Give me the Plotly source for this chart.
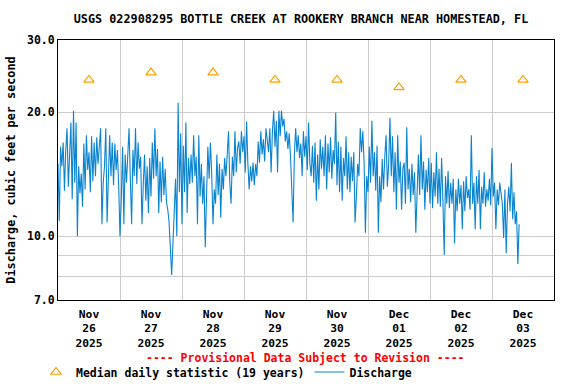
import plotly.graph_objects as go
import pandas as pd

# Discharge, 30-minute values (cfs), one list per day
nov26 = [15.0, 10.9, 16.5, 14.8, 16.9, 12.9, 16.2, 18.3, 13.2, 17.0, 18.9, 12.3,
         20.2, 13.5, 18.9, 10.0, 14.8, 12.7, 14.2, 11.8, 16.8, 13.0, 17.6, 14.5,
         16.0, 12.8, 17.5, 13.6, 16.9, 14.0, 17.4, 15.0, 16.3, 18.3, 10.7, 13.5,
         14.8, 18.3, 10.8, 13.4, 17.6, 14.0, 16.9, 13.3, 16.8, 14.5, 16.2, 13.2]
nov27 = [10.0, 12.3, 16.5, 10.7, 15.8, 13.5, 16.6, 18.3, 13.8, 10.7, 16.2, 14.0,
         18.3, 13.4, 16.9, 14.6, 15.6, 10.7, 13.3, 15.8, 12.2, 14.8, 11.4, 15.5,
         12.5, 16.9, 13.8, 18.3, 14.0, 16.3, 11.4, 15.2, 12.1, 15.6, 12.6, 14.6,
         12.1, 11.6, 10.8, 9.4, 8.05, 9.6, 11.5, 13.8, 10.0, 21.1, 12.8, 17.8]
nov28 = [10.7, 16.6, 12.8, 18.9, 11.4, 15.5, 13.4, 15.8, 13.5, 17.6, 14.0, 15.6,
         10.7, 17.6, 12.5, 15.0, 12.0, 14.0, 9.4, 12.3, 16.5, 13.8, 16.9, 14.2,
         10.7, 13.0, 12.0, 15.8, 12.6, 15.0, 11.1, 14.6, 13.0, 15.5, 14.0, 15.8,
         18.0, 13.5, 12.0, 15.6, 14.0, 18.0, 14.3, 16.4, 17.0, 15.0, 18.0, 16.0]
nov29 = [17.5, 14.3, 19.0, 15.0, 13.0, 14.8, 13.6, 15.1, 13.3, 15.0, 14.0, 17.0,
         15.1, 18.0, 15.8, 17.2, 15.2, 18.3, 17.0, 16.0, 18.3, 14.3, 18.0, 20.2,
         16.5, 19.1, 14.3, 20.2, 17.5, 20.2, 18.5, 19.3, 17.0, 18.0, 16.3, 17.8,
         15.6, 13.5, 10.8, 15.8, 18.3, 16.0, 17.6, 15.5, 16.8, 14.0, 18.0, 15.6]
nov30 = [17.5, 14.5, 18.9, 15.0, 14.0, 16.6, 13.5, 16.9, 12.2, 15.8, 13.0, 17.2,
         14.6, 16.5, 14.0, 17.6, 13.0, 16.8, 14.3, 17.4, 13.8, 16.2, 15.0, 20.0,
         13.3, 17.0, 12.8, 16.5, 12.2, 15.5, 14.0, 17.5, 13.0, 16.0, 12.8, 15.6,
         13.6, 16.0, 10.8, 12.5, 15.0, 14.0, 18.3, 16.0, 18.0, 15.0, 10.2, 14.0]
dec01 = [12.8, 16.5, 13.5, 19.1, 14.0, 16.0, 12.9, 16.6, 10.2, 14.0, 12.1, 15.4,
         13.0, 15.6, 17.6, 13.2, 15.0, 19.4, 14.0, 17.5, 12.8, 16.0, 11.6, 17.6,
         13.5, 15.2, 11.6, 14.6, 15.1, 12.0, 18.4, 13.0, 14.6, 12.1, 15.0, 12.6,
         14.3, 10.2, 13.5, 15.8, 12.6, 17.6, 13.0, 15.2, 11.6, 14.5, 12.8, 15.5]
dec02 = [12.0, 15.1, 11.7, 14.3, 12.5, 16.0, 12.0, 14.6, 11.8, 15.5, 12.2, 9.0,
         14.0, 12.0, 14.4, 11.7, 13.5, 12.0, 13.8, 9.6, 13.0, 11.5, 13.8, 12.0,
         13.3, 10.4, 13.6, 11.5, 14.0, 12.4, 13.0, 11.6, 17.6, 12.0, 13.5, 10.4,
         14.0, 12.0, 14.5, 10.4, 13.2, 12.0, 14.3, 11.8, 13.0, 12.2, 13.8, 11.9]
dec03 = [16.4, 12.5, 13.5, 10.4, 13.0, 11.9, 13.5, 12.5, 12.0, 9.9, 13.0, 9.1,
         12.0, 13.2, 11.5, 15.1, 11.0, 12.8, 10.7, 11.5, 8.56, 10.7]

discharge = nov26 + nov27 + nov28 + nov29 + nov30 + dec01 + dec02 + dec03
times = pd.date_range("2025-11-26 00:00", periods=len(discharge), freq="30min")

median_dates = ["2025-11-26 12:00", "2025-11-27 12:00", "2025-11-28 12:00", "2025-11-29 12:00",
                "2025-11-30 12:00", "2025-12-01 12:00", "2025-12-02 12:00", "2025-12-03 12:00"]
median_values = [24, 25, 25, 24, 24, 23, 24, 24]

xtick_vals = median_dates
xtick_text = ["Nov<br>26<br>2025", "Nov<br>27<br>2025", "Nov<br>28<br>2025", "Nov<br>29<br>2025",
              "Nov<br>30<br>2025", "Dec<br>01<br>2025", "Dec<br>02<br>2025", "Dec<br>03<br>2025"]
xgrid_vals = ["2025-11-27", "2025-11-28", "2025-11-29", "2025-11-30",
              "2025-12-01", "2025-12-02", "2025-12-03"]
ytick_vals = [7, 10, 20, 30]
ytick_text = ["7.0", "10.0", "20.0", "30.0"]
ygrid_minor = [8, 9]

FONT = "DejaVu Sans Mono"
L, R, T, B = 58, 22, 40, 84
PW, PH = 576 - L - R, 384 - T - B

fig = go.Figure()
fig.add_trace(go.Scatter(
    x=median_dates, y=median_values, mode="markers",
    name="<b>Median daily statistic (19 years)</b>",
    marker=dict(symbol="triangle-up-open", size=9, color="#FFA000", line=dict(width=1.2)),
))
fig.add_trace(go.Scatter(
    x=times, y=discharge, mode="lines", name="<b>Discharge</b>",
    line=dict(color="#0A84D0", width=1.1),
))

fig.update_layout(
    width=576, height=384,
    margin=dict(l=L, r=R, t=T, b=B, autoexpand=False),
    paper_bgcolor="white", plot_bgcolor="white",
    font=dict(family=FONT, size=11.5, color="black"),
    title=dict(text="<b>USGS 022908295 BOTTLE CREEK AT ROOKERY BRANCH NEAR HOMESTEAD, FL</b>",
               x=301/576, xref="container", xanchor="center",
               y=1-19/384, yref="container", yanchor="middle",
               font=dict(family=FONT, size=11.8, color="black")),
    showlegend=True,
    legend=dict(orientation="h", x=(36-L)/PW, xanchor="left", y=(300-372)/PH, yanchor="middle",
                font=dict(family=FONT, size=11.5, color="black"),
                bgcolor="rgba(0,0,0,0)", itemwidth=30, tracegroupgap=0),
    annotations=[dict(text="<b>---- Provisional Data Subject to Revision ----</b>",
                      x=(305-L)/PW, xref="paper", y=(300-358)/PH, yref="paper",
                      xanchor="center", yanchor="middle", showarrow=False,
                      font=dict(family=FONT, size=11.5, color="red"))],
)

fig.update_xaxes(
    range=["2025-11-26 00:00", "2025-12-04 00:00"], automargin=False,
    tickmode="array", tickvals=xtick_vals, ticktext=["<b>%s</b>" % t for t in xtick_text],
    showgrid=False, ticks="", ticklabelstandoff=3, tickfont=dict(family=FONT, size=11.3),
    showline=True, linecolor="black", linewidth=1, mirror=True,
    minor=dict(tickmode="array", tickvals=xgrid_vals, showgrid=True,
               gridcolor="#CCCCCC", gridwidth=1, ticks=""),
    zeroline=False,
)
fig.update_yaxes(
    type="log", range=[0.845098, 1.4771213], automargin=False,
    tickmode="array", tickvals=ytick_vals, ticktext=["<b>%s</b>" % t for t in ytick_text],
    showgrid=True, gridcolor="#CCCCCC", gridwidth=1, ticks="",
    tickfont=dict(family=FONT, size=11.5),
    showline=True, linecolor="black", linewidth=1, mirror=True,
    minor=dict(tickmode="array", tickvals=ygrid_minor, showgrid=True,
               gridcolor="#CCCCCC", gridwidth=1, ticks=""),
    title=dict(text="<b>Discharge, cubic feet per second</b>", standoff=8,
               font=dict(family=FONT, size=11.8)),
    zeroline=False,
)

fig.write_html("out.html", config={"displayModeBar": False},
               post_script="document.body.style.margin='0';")
